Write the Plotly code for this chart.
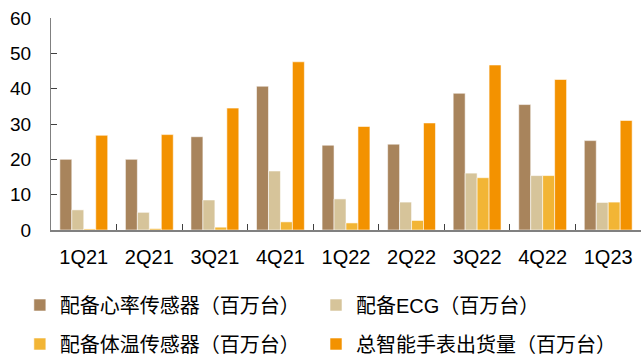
import plotly.graph_objects as go

quarters = ["1Q21", "2Q21", "3Q21", "4Q21", "1Q22", "2Q22", "3Q22", "4Q22", "1Q23"]
heart_rate = [20.0, 20.0, 26.4, 40.7, 24.0, 24.3, 38.7, 35.5, 25.3]
ecg = [5.7, 5.0, 8.5, 16.7, 8.8, 7.9, 16.1, 15.4, 7.8]
temperature = [0.3, 0.4, 0.8, 2.3, 2.0, 2.7, 14.8, 15.4, 7.9]
total_shipments = [26.8, 27.0, 34.5, 47.6, 29.3, 30.3, 46.7, 42.6, 31.0]

# name, values, colour, legend id, legend position (container fraction)
series = [
    ("配备心率传感器（百万台）", heart_rate, "#A8845C", "legend", (0.031, 1 - 305 / 355)),
    ("配备ECG（百万台）", ecg, "#D6C49A", "legend2", (0.493, 1 - 305 / 355)),
    ("配备体温传感器（百万台）", temperature, "#F2B535", "legend3", (0.031, 1 - 344 / 355)),
    ("总智能手表出货量（百万台）", total_shipments, "#F39200", "legend4", (0.493, 1 - 344 / 355)),
]

font_family = "Liberation Sans, Arial, Noto Sans CJK SC, sans-serif"

fig = go.Figure()
legends = {}
for name, values, color, leg, (lx, ly) in series:
    fig.add_trace(go.Bar(
        x=quarters, y=values, name=name, showlegend=True,
        marker=dict(color=color, line=dict(color="rgba(255,255,255,0.7)", width=0.8)),
        legend=leg,
    ))
    legends[leg] = dict(
        x=lx, y=ly, orientation="h", xref="container", yref="container",
        xanchor="left", yanchor="middle",
        font=dict(family=font_family, size=20, color="#000000"),
        bgcolor="rgba(0,0,0,0)", itemwidth=30, visible=True,
    )

fig.update_layout(
    width=641, height=355,
    margin=dict(l=51, r=0, t=18, b=125),
    showlegend=True,
    paper_bgcolor="white", plot_bgcolor="white",
    barmode="group", bargap=0.27, bargroupgap=0,
    font=dict(family=font_family, size=19, color="#000000"),
    xaxis=dict(
        type="category", tickson="boundaries", ticks="inside", ticklen=6,
        tickcolor="#404040", tickwidth=1,
        showline=True, linecolor="#808080", linewidth=1.5,
        showgrid=False, tickfont=dict(size=20),
        ticklabelstandoff=8,
        range=[-0.5, len(quarters) - 0.5],
    ),
    yaxis=dict(
        range=[0, 60], dtick=10, ticks="inside", ticklen=6,
        tickcolor="#404040", tickwidth=1,
        showline=True, linecolor="#808080", linewidth=1,
        showgrid=False, zeroline=False, tickfont=dict(size=19),
        ticklabelstandoff=15,
    ),
    **legends,
)

fig.write_html("out.html")
